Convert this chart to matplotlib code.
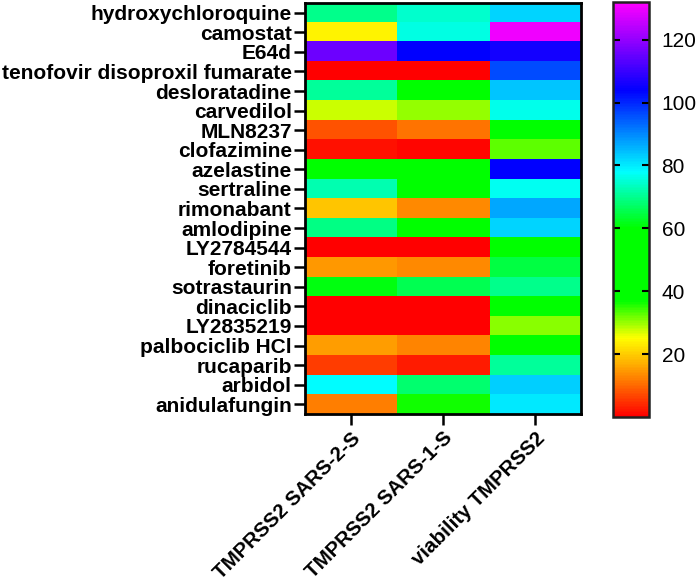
import numpy as np
import matplotlib
matplotlib.use("Agg")
import matplotlib.pyplot as plt
from matplotlib.colors import LinearSegmentedColormap, Normalize

drugs = ["hydroxychloroquine", "camostat", "E64d", "tenofovir disoproxil fumarate",
         "desloratadine", "carvedilol", "MLN8237", "clofazimine", "azelastine",
         "sertraline", "rimonabant", "amlodipine", "LY2784544", "foretinib",
         "sotrastaurin", "dinaciclib", "LY2835219", "palbociclib HCl", "rucaparib",
         "arbidol", "anidulafungin"]
columns = ["TMPRSS2 SARS-2-S", "TMPRSS2 SARS-1-S", "viability TMPRSS2"]

sars2 = [70, 24, 116, 0, 71, 27.8, 8, 2, 48, 72.4, 19.4, 69.6, 0, 14.5, 61, 0, 0, 15.3, 6, 78, 12]
sars1 = [74.7, 75.8, 104, 0, 50, 30, 11, 1, 48, 50, 13.2, 50, 0, 13.2, 65.6, 0, 0, 12.8, 3, 68, 36.5]
viab = [82, 130, 106, 96, 83.6, 76.4, 50, 32.8, 104, 77, 86.9, 82, 50, 64.5, 70, 50, 30.9, 50, 71, 83, 80.4]

cbar_ticks = [20, 40, 60, 80, 100, 120]
vmin, vmax = 0, 132

data = np.array([sars2, sars1, viab]).T

nodes = [(0, "#FF0000"), (12, "#FF8000"), (25, "#FFFF00"), (37, "#00FF00"),
         (60, "#00FF00"), (78, "#00FFFF"), (104, "#0000FF"), (132, "#FF00FF")]
cmap = LinearSegmentedColormap.from_list(
    "prism_like", [((v - vmin) / (vmax - vmin), c) for v, c in nodes])

plt.rcParams['font.family'] = ['Liberation Sans', 'DejaVu Sans']

fig = plt.figure(figsize=(6.99, 5.86), dpi=100)
ax = fig.add_axes([0.4363, 0.2935, 0.3949, 0.7014])
norm = Normalize(vmin=vmin, vmax=vmax)
im = ax.imshow(data, cmap=cmap, norm=norm, aspect='auto', interpolation='nearest')

ax.set_yticks(range(len(drugs)))
ax.set_yticklabels(drugs, fontsize=15, fontweight='bold')
ax.set_xticks(range(len(columns)))
ax.set_xticklabels(columns, fontsize=14.8, fontweight='bold', rotation=45,
                   ha='right', rotation_mode='anchor')
ax.tick_params(axis='both', length=8, width=1.8, color='black')
ax.tick_params(axis='y', pad=1.5)
ax.tick_params(axis='x', pad=2.5)
for s in ax.spines.values():
    s.set_linewidth(2)
    s.set_color('black')

cax = fig.add_axes([0.877, 0.2884, 0.0515, 0.7082])
cb = fig.colorbar(im, cax=cax, ticks=cbar_ticks)
cb.outline.set_linewidth(1.8)
cb.outline.set_edgecolor('#222222')
cax.tick_params(axis='y', direction='in', left=True, right=True, length=5,
                width=1.5, labelsize=15, pad=9)

fig.savefig("out.png", dpi=100)
